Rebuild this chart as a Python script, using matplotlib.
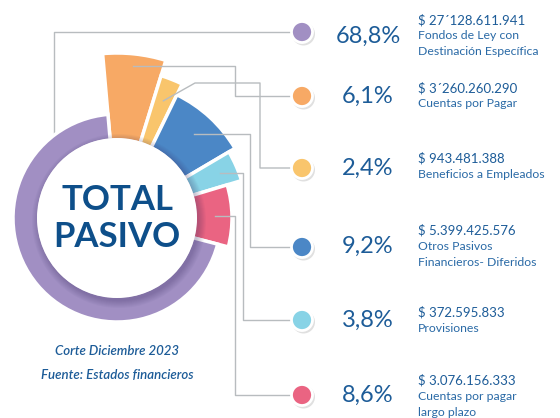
import numpy as np
import matplotlib.pyplot as plt
from matplotlib.patches import Wedge, Circle

plt.rcParams['font.family'] = ['Lato', 'DejaVu Sans']

# datos
categorias = ['Fondos de Ley con\nDestinación Específica', 'Cuentas por Pagar',
              'Beneficios a Empleados', 'Otros Pasivos\nFinancieros- Diferidos',
              'Provisiones', 'Cuentas por pagar\nlargo plazo']
porcentajes = [68.8, 6.1, 2.4, 9.2, 3.8, 8.6]
montos = ['$ 27´128.611.941', '$ 3´260.260.290', '$ 943.481.388',
          '$ 5.399.425.576', '$ 372.595.833', '$ 3.076.156.333']

colores = ['#a18fc3', '#f7a965', '#f9c56c', '#4b87c6', '#88d3e6', '#ea6482']
radios = [104, 165, 149, 137, 130, 115]
r_in = 80
cx, cy = 117, 218
azul = '#1d5c98'
gris = '#b8bcbf'

fig = plt.figure(figsize=(5.6, 4.18), dpi=100)
ax = fig.add_axes([0, 0, 1, 1])
ax.set_xlim(0, 560)
ax.set_ylim(418, 0)
ax.axis('off')

# angulos (sentido horario desde arriba), empezando por Cuentas por Pagar
orden = [1, 2, 3, 4, 5, 0]
total = sum(porcentajes)
a = -5.0
angulos = {}
for i in orden:
    span = porcentajes[i] / total * 360
    angulos[i] = (a, a + span)
    a += span

for i in orden:
    a1, a2 = angulos[i]
    w = Wedge((cx, cy), radios[i], a1 - 90, a2 - 90, width=radios[i] - r_in + 2,
              facecolor=colores[i], edgecolor='white', lw=2.5, zorder=2)
    ax.add_patch(w)

# sombra del circulo central
for k in range(8):
    ax.add_patch(Circle((cx + 2, cy + 3), r_in + 7 - k, facecolor='#3a2a60',
                        alpha=0.04, lw=0, zorder=3))
ax.add_patch(Circle((cx, cy), r_in, facecolor='white', lw=0, zorder=4))

ax.text(cx, 210, 'TOTAL', ha='center', va='baseline', fontsize=25,
        fontweight='bold', color='#0e4f8a', zorder=5)
ax.text(cx, 247, 'PASIVO', ha='center', va='baseline', fontsize=25,
        fontweight='bold', color='#0e4f8a', zorder=5)

ax.text(cx, 355, 'Corte Diciembre 2023', ha='center', va='baseline', fontsize=9.5,
        style='italic', fontweight='semibold', color=azul)
ax.text(cx, 379, 'Fuente: Estados financieros', ha='center', va='baseline', fontsize=9.5,
        style='italic', fontweight='semibold', color=azul)

# leyenda
ley_x = 302
ley_y = [32, 96, 168, 247, 320, 395]
pct_y = [43, 103, 175, 253, 327, 402]
monto_y = [24, 92, 163, 235, 317, 385]

def punto(i, rr):
    m = np.deg2rad(sum(angulos[i]) / 2)
    return cx + rr * np.sin(m), cy - rr * np.cos(m)

# lineas guia
ax.plot([ley_x - 10, 54, 54], [ley_y[0], ley_y[0], 133], color=gris, lw=1, zorder=1)
inicio_r = {1: 153, 2: 126, 3: 114, 4: 112, 5: 98}
codo_x = {1: 235, 3: 250, 4: 243, 5: 235}
for i in [1, 3, 4, 5]:
    x0, y0 = punto(i, inicio_r[i])
    ax.plot([x0, codo_x[i], codo_x[i], ley_x - 10], [y0, y0, ley_y[i], ley_y[i]],
            color=gris, lw=1, zorder=6)
x0, y0 = punto(2, inicio_r[2])
ax.plot([x0, 195, 260, 260, ley_x - 10], [y0, 83, 83, ley_y[2], ley_y[2]],
        color=gris, lw=1, zorder=6)

for i in range(6):
    ax.add_patch(Circle((ley_x + 1.5, ley_y[i] + 2), 11.5, facecolor='#000000',
                        alpha=0.12, lw=0, zorder=6))
    ax.add_patch(Circle((ley_x, ley_y[i]), 10.5, facecolor=colores[i],
                        edgecolor='white', lw=2, zorder=7))
    txt = f'{porcentajes[i]:.1f}%'.replace('.', ',')
    ax.text(368, pct_y[i], txt, ha='center', va='baseline', fontsize=17,
            fontweight='normal', color=azul)
    ax.text(418, monto_y[i], montos[i], ha='left', va='baseline', fontsize=9.5,
            color=azul)
    for j, linea in enumerate(categorias[i].split('\n')):
        ax.text(418, monto_y[i] + 15 + 16 * j, linea, ha='left', va='baseline',
                fontsize=8.8, color='#2a6aa6')

fig.savefig('out.png', dpi=100)
